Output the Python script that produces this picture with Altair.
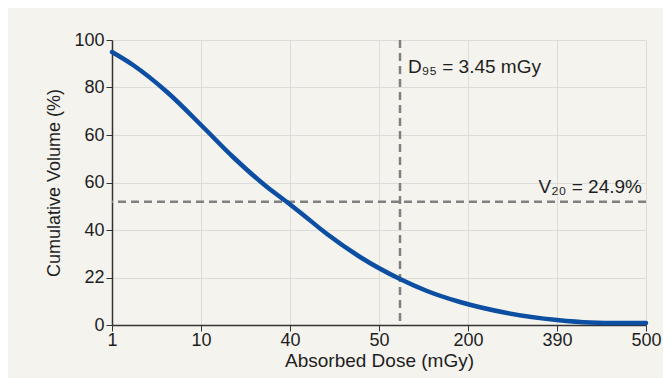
import json
import altair as alt
import pandas as pd

# Tick labels (as printed on the original, evenly spaced)
x_labels = ["1", "10", "40", "50", "200", "390", "500"]
y_labels = ["0", "22", "40", "60", "60", "80", "100"]  # bottom to top

# Curve, in tick-index units (0..6 on both axes)
curve_x = [0, 0.236, 0.618, 1.034, 1.360, 1.742, 1.966, 2.112, 2.416, 2.787,
           3.236, 3.539, 3.910, 4.438, 5.000, 5.371, 5.708, 6.0]
curve_y = [5.747, 5.474, 4.905, 4.147, 3.537, 2.905, 2.589, 2.375, 1.915, 1.432,
           0.968, 0.716, 0.484, 0.253, 0.105, 0.053, 0.042, 0.042]

# Reference lines (tick-index units)
d95_x = [3.236]
v20_y = [2.596]

# Annotations
ann_text = ["D\u2089\u2085 = 3.45 mGy", "V\u2082\u2080 = 24.9%"]
ann_x = [3.236, 6.0]
ann_y = [5.305, 2.78]
ann_align = ["left", "right"]

FONT = "Liberation Sans"

curve_df = pd.DataFrame({"x": curve_x, "y": curve_y})
vline_df = pd.DataFrame({"x": d95_x})
hline_df = pd.DataFrame({"y": v20_y})
ann_df = pd.DataFrame({"t": ann_text, "x": ann_x, "y": ann_y, "a": ann_align})

x_expr = json.dumps(x_labels) + "[datum.value]"
y_expr = json.dumps(y_labels) + "[datum.value]"

xscale = alt.Scale(domain=[0, 6], nice=False, zero=False)
yscale = alt.Scale(domain=[0, 6], nice=False, zero=False)

x_axis = alt.Axis(values=list(range(7)), labelExpr=x_expr, title="Absorbed Dose (mGy)",
                  grid=True, titleFontSize=19)
y_axis = alt.Axis(values=list(range(7)), labelExpr=y_expr, title="Cumulative Volume (%)",
                  grid=True)

curve = alt.Chart(curve_df).mark_line(
    color="#0b4ea2", strokeWidth=4.5, interpolate="monotone", strokeCap="round"
).encode(
    x=alt.X("x:Q", scale=xscale, axis=x_axis),
    y=alt.Y("y:Q", scale=yscale, axis=y_axis),
)

vline = alt.Chart(vline_df).mark_rule(
    color="#808080", strokeWidth=2.5, strokeDash=[8, 5]
).encode(x=alt.X("x:Q", scale=xscale))

hline = alt.Chart(hline_df).mark_rule(
    color="#808080", strokeWidth=2.5, strokeDash=[8, 5]
).encode(y=alt.Y("y:Q", scale=yscale))

left_ann = alt.Chart(ann_df[ann_df.a == "left"]).mark_text(
    align="left", baseline="alphabetic", dx=8, fontSize=19, font=FONT, color="#1e1e1e"
).encode(x=alt.X("x:Q", scale=xscale), y=alt.Y("y:Q", scale=yscale), text="t:N")

right_ann = alt.Chart(ann_df[ann_df.a == "right"]).mark_text(
    align="right", baseline="alphabetic", dx=-4, fontSize=19, font=FONT, color="#1e1e1e"
).encode(x=alt.X("x:Q", scale=xscale), y=alt.Y("y:Q", scale=yscale), text="t:N")

chart = alt.layer(vline, hline, curve, left_ann, right_ann).properties(
    width=534,
    height=285,
    background="#f4f3ee",
    autosize=alt.AutoSizeParams(type="none"),
    padding={"left": 104, "top": 32, "right": 17, "bottom": 53},
).configure_view(
    strokeWidth=0
).configure_axis(
    labelFont=FONT, titleFont=FONT, labelFontSize=18, titleFontSize=18,
    labelColor="#1e1e1e", titleColor="#1e1e1e", titleFontWeight="normal",
    domainColor="#333333", domainWidth=1.5, tickColor="#333333", tickSize=6,
    gridColor="#dcdcd8", gridWidth=1,
).configure_axisX(
    labelPadding=0, titlePadding=2, labelFlush=False,
).configure_axisY(
    labelPadding=2, titlePadding=10, labelFlush=False,
)

chart.save("out.html", embed_options={"renderer": "svg", "actions": False})
